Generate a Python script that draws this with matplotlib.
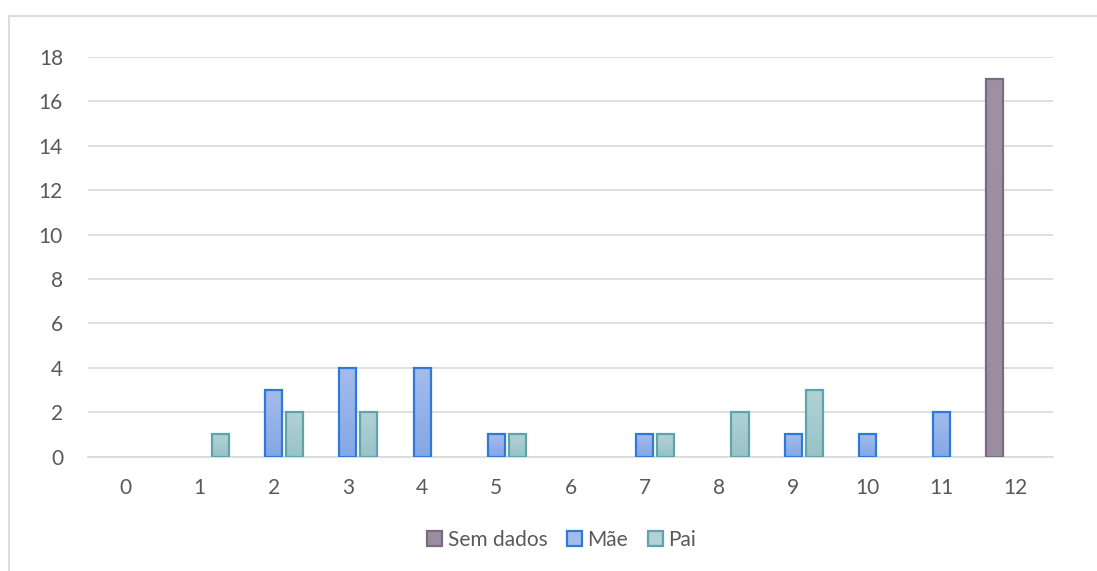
import numpy as np
import matplotlib
matplotlib.use("Agg")
import matplotlib.pyplot as plt
from matplotlib.colors import LinearSegmentedColormap
from matplotlib.patches import Rectangle

plt.rcParams['font.family'] = ['Lato', 'DejaVu Sans']

categories = list(range(13))
series_names = ["Sem dados", "Mãe", "Pai"]
sem_dados = [0, 0, 0, 0, 0, 0, 0, 0, 0, 0, 0, 0, 17]
mae = [0, 0, 3, 4, 4, 1, 0, 1, 0, 1, 1, 2, 0]
pai = [0, 1, 2, 2, 0, 1, 0, 1, 2, 3, 0, 0, 0]
y_ticks = [0, 2, 4, 6, 8, 10, 12, 14, 16, 18]

# (top colour, bottom colour, edge colour) per series
styles = [
    ("#9F90A4", "#9B8CA0", "#7B6B80"),
    ("#A3BCEC", "#84A7E7", "#2F7AD6"),
    ("#B2D2D5", "#98C3C7", "#5FA3AB"),
]
offsets = [-0.283, 0.0, 0.283]
width = 0.23
text_color = "#595959"
grid_color = "#D9D9D9"
font_size = 15

fig = plt.figure(figsize=(10.97, 5.71), dpi=100)
ax = fig.add_axes([88 / 1097, 1 - 456.7 / 571, (1053 - 88) / 1097, (456.7 - 57) / 571])

x = np.arange(len(categories))
handles = []
for name, vals, (top, bot, edge), off in zip(series_names, [sem_dados, mae, pai], styles, offsets):
    vals = np.asarray(vals, dtype=float)
    keep = vals > 0
    bars = ax.bar(x[keep] + off, vals[keep], width=width, facecolor="none",
                  edgecolor=edge, linewidth=1.6, zorder=3)
    cmap = LinearSegmentedColormap.from_list(name, [bot, top])
    grad = np.linspace(0, 1, 256).reshape(-1, 1)
    for b in bars:
        bx, by = b.get_x(), b.get_y()
        bw, bh = b.get_width(), b.get_height()
        im = ax.imshow(grad, cmap=cmap, origin="lower", aspect="auto",
                       extent=[bx, bx + bw, by, by + bh], zorder=2.5)
        im.set_clip_path(b)
    handles.append(Rectangle((0, 0), 1, 1, facecolor=(top if name != "Sem dados" else bot),
                             edgecolor=edge, linewidth=1.6))

ax.set_xlim(-0.5, 12.5)
ax.set_ylim(0, 18)
ax.set_xticks(x)
ax.set_xticklabels([str(c) for c in categories])
ax.set_yticks(y_ticks)
ax.set_yticklabels([str(t) for t in y_ticks])
ax.yaxis.grid(True, color=grid_color, linewidth=1.2, zorder=0)
ax.set_axisbelow(True)
for side in ["top", "right", "left"]:
    ax.spines[side].set_visible(False)
ax.spines["bottom"].set_color(grid_color)
ax.spines["bottom"].set_linewidth(1.2)
ax.tick_params(axis="both", length=0, labelsize=font_size, labelcolor=text_color)
ax.tick_params(axis="x", pad=15)
ax.tick_params(axis="y", pad=18)

fig.legend(handles, series_names, loc="center", bbox_to_anchor=(561.5 / 1097, 1 - 540 / 571),
           ncol=3, frameon=False, fontsize=font_size, labelcolor=text_color,
           handlelength=0.72, handleheight=0.72, handletextpad=0.25, columnspacing=0.95)

# outer chart border
fig.patches.append(Rectangle((8.5 / 1097, -0.1), 1.2, 1 - 15.5 / 571 + 0.1,
                             transform=fig.transFigure, facecolor="none",
                             edgecolor=grid_color, linewidth=1.3))

fig.savefig("out.png", dpi=100)
